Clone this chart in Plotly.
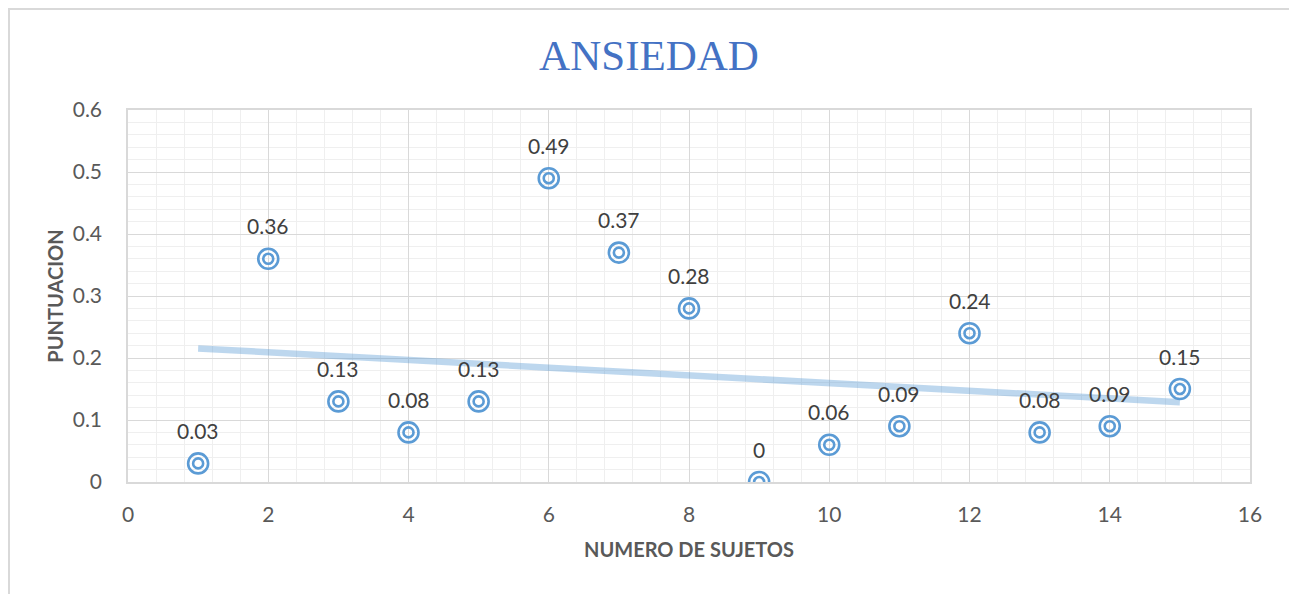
import numpy as np
import plotly.graph_objects as go

sujetos = list(range(1, 16))
puntuacion = [0.03, 0.36, 0.13, 0.08, 0.13, 0.49, 0.37, 0.28, 0, 0.06, 0.09, 0.24, 0.08, 0.09, 0.15]
labels = ["0.03", "0.36", "0.13", "0.08", "0.13", "0.49", "0.37", "0.28", "0", "0.06", "0.09", "0.24", "0.08", "0.09", "0.15"]
x_ticks = [0, 2, 4, 6, 8, 10, 12, 14, 16]
y_ticks = [0, 0.1, 0.2, 0.3, 0.4, 0.5, 0.6]
y_tick_text = ["0", "0.1", "0.2", "0.3", "0.4", "0.5", "0.6"]

# page body has an 8px margin; figure sized to fit the window
OFF = 8
W, H = 1297 - OFF, 594 - OFF
ml, mr, mt, mb = 128 - OFF, 47, 110 - OFF, 112

slope, intercept = np.polyfit(sujetos, puntuacion, 1)
trend_x = [sujetos[0], sujetos[-1]]
trend_y = [slope * v + intercept for v in trend_x]

blue = "#5b9bd5"
font_main = "Lato, 'Noto Sans', sans-serif"

fig = go.Figure()
fig.add_trace(go.Scatter(
    x=trend_x, y=trend_y, mode="lines",
    line=dict(color="rgba(91,155,213,0.4)", width=6.5),
    hoverinfo="skip", showlegend=False,
))
fig.add_trace(go.Scatter(
    x=sujetos, y=puntuacion, mode="markers",
    marker=dict(symbol="circle-open", size=20, color=blue, line=dict(width=2.6, color=blue)),
    showlegend=False,
))
fig.add_trace(go.Scatter(
    x=sujetos, y=puntuacion, mode="markers",
    marker=dict(symbol="circle-open", size=10, color=blue, line=dict(width=2.6, color=blue)),
    showlegend=False, hoverinfo="skip",
))
for xv, yv, lab in zip(sujetos, puntuacion, labels):
    fig.add_annotation(x=xv, y=yv, text=lab, showarrow=False, yshift=33,
                       xanchor="center", yanchor="middle",
                       font=dict(family=font_main, size=21, color="#404040"))

# outer chart border (in paper coords)
pw = W - ml - mr
ph = H - mt - mb
x0 = (1 - ml) / pw
x1 = (1291 - OFF - ml) / pw
y1 = (H - mb - 1) / ph
y0 = (H - mb - 620) / ph
fig.add_shape(type="rect", xref="paper", yref="paper", x0=x0, x1=x1, y0=y0, y1=y1,
              line=dict(color="#d9d9d9", width=2), layer="above")

fig.update_layout(
    width=W, height=H,
    margin=dict(l=ml, r=mr, t=mt, b=mb),
    paper_bgcolor="white", plot_bgcolor="white",
    title=dict(text="ANSIEDAD", x=(649 - OFF) / W, xref="container", xanchor="center",
               y=1 - (55 - OFF) / H, yanchor="middle",
               font=dict(family="'Liberation Serif', 'DejaVu Serif', serif", size=43, color="#4472c4")),
    font=dict(family=font_main, color="#595959"),
    xaxis=dict(
        range=[0, 16], tickvals=x_ticks, ticktext=[str(v) for v in x_ticks],
        tickfont=dict(size=21, color="#595959"),
        showgrid=True, gridcolor="#d9d9d9", gridwidth=1.2,
        minor=dict(dtick=0.4, showgrid=True, gridcolor="#efefef", gridwidth=1.3),
        showline=True, linecolor="#d9d9d9", linewidth=1.5, mirror=True,
        zeroline=False, ticks="outside", ticklen=13, tickcolor="rgba(0,0,0,0)",
        title=dict(text="<b>NUMERO DE SUJETOS</b>", font=dict(size=20, color="#595959"), standoff=18),
    ),
    yaxis=dict(
        range=[0, 0.6], tickvals=y_ticks, ticktext=y_tick_text,
        tickfont=dict(size=21, color="#595959"),
        showgrid=True, gridcolor="#d9d9d9", gridwidth=1.2,
        minor=dict(dtick=0.02, showgrid=True, gridcolor="#efefef", gridwidth=1.3),
        showline=True, linecolor="#d9d9d9", linewidth=1.5, mirror=True,
        zeroline=False, ticks="outside", ticklen=20, tickcolor="rgba(0,0,0,0)",
        title=dict(text="<b>PUNTUACION</b>", font=dict(size=20, color="#595959"), standoff=4),
    ),
)

fig.write_html("out.html")
